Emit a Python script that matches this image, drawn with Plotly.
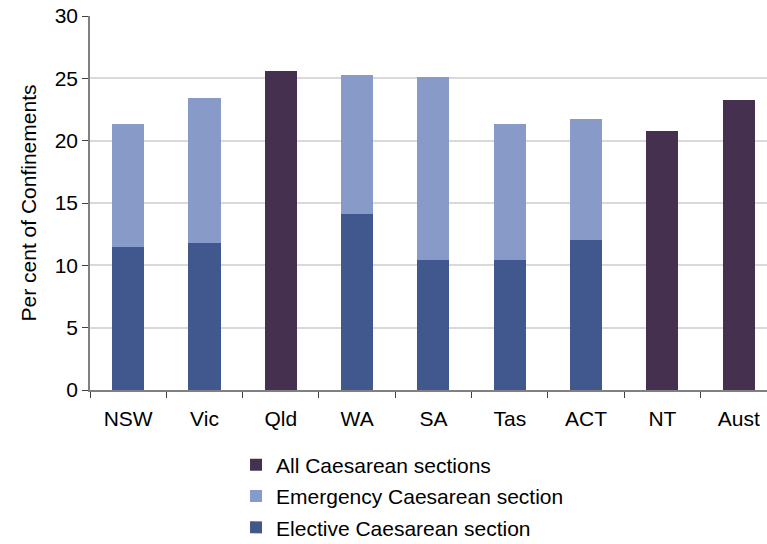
import plotly.graph_objects as go

categories = ["NSW", "Vic", "Qld", "WA", "SA", "Tas", "ACT", "NT", "Aust"]
elective = [11.5, 11.8, None, 14.1, 10.4, 10.4, 12.0, None, None]
emergency = [9.8, 11.6, None, 11.2, 14.7, 10.9, 9.7, None, None]
all_cs = [None, None, 25.6, None, None, None, None, 20.8, 23.3]

C_ELECT = "#41588F"
C_EMERG = "#889BC8"
C_ALL = "#46304F"
FONT = "Liberation Sans, Arial, sans-serif"
FS = 21

fig = go.Figure()
fig.add_bar(x=categories, y=elective, name="Elective Caesarean section",
            marker=dict(color=C_ELECT, line=dict(width=0)), width=0.42,
            legendgroup="c", legendrank=3)
fig.add_bar(x=categories, y=emergency, name="Emergency Caesarean section",
            marker=dict(color=C_EMERG, line=dict(width=0)), width=0.42,
            legendgroup="b", legendrank=2)
fig.add_bar(x=categories, y=all_cs, name="All Caesarean sections",
            marker=dict(color=C_ALL, line=dict(width=0)), width=0.42,
            legendgroup="a", legendrank=1)

fig.update_layout(
    width=767, height=544,
    barmode="stack",
    plot_bgcolor="white", paper_bgcolor="white",
    margin=dict(l=90, r=0, t=16, b=154, autoexpand=False),
    font=dict(family=FONT, size=FS, color="#000000"),
    showlegend=True,
    legend=dict(
        x=0.2157, y=-0.146, xanchor="left", yanchor="top",
        traceorder="grouped", tracegroupgap=1,
        font=dict(family=FONT, size=FS, color="#000000"),
        bgcolor="rgba(0,0,0,0)",
    ),
    xaxis=dict(
        range=[-0.5, 8.37], type="category",
        showline=True, linecolor="#808080", linewidth=1.5,
        ticks="outside", tickson="boundaries", ticklen=6, tickcolor="#404040",
        showgrid=False, tickfont=dict(size=FS), ticklabelstandoff=9,
    ),
    yaxis=dict(
        range=[0, 30], dtick=5,
        showline=True, linecolor="#808080", linewidth=1.5,
        ticks="outside", ticklen=6, tickcolor="#404040",
        showgrid=True, gridcolor="#d9d9d9", gridwidth=1.5,
        zeroline=False, tickfont=dict(size=FS), ticklabeloverflow="allow",
        title=dict(text="Per cent of Confinements", font=dict(size=FS), standoff=12),
    ),
)

fig.write_html("out.html", config={"displayModeBar": False},
               post_script="document.body.style.margin='0';")
